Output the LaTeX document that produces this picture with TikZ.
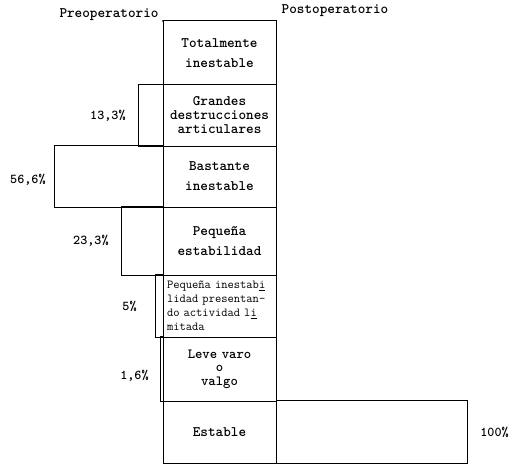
\documentclass[tikz,border=0pt]{standalone}
\usepackage{tikz}

\begin{document}
\begin{tikzpicture}[x=1pt,y=-1pt,line width=1pt,
    fila/.style={draw, inner xsep=4pt, inner ysep=0pt, text width=105pt, align=center,
        font=\ttfamily\bfseries\fontsize{14.5}{20}\selectfont},
    pct/.style={anchor=east, font=\ttfamily\bfseries\fontsize{13.5}{15}\selectfont},
    titulo/.style={font=\ttfamily\bfseries\fontsize{14.5}{16}\selectfont}]
        \useasboundingbox (0,0) rectangle (518,465);
        \node[titulo] (preop) at (109,15) {Preoperatorio};
        \node[titulo] (postop) at (335,11) {Postoperatorio};
        % columna central
        \node[fila, minimum height=64pt] (total) at (219.5,53) {Totalmente\\inestable};
        \node[fila, minimum height=61pt, font=\ttfamily\bfseries\fontsize{14.5}{14}\selectfont] (grandes) at (219.5,115.5) {Grandes\\destrucciones\\articulares};
        \node[fila, minimum height=61pt] (bastante) at (219.5,176.5) {Bastante\\inestable};
        \node[fila, minimum height=68pt] (pequena) at (219.5,241) {Pequeña\\estabilidad};
        \node[fila, minimum height=62pt, align=left, font=\ttfamily\fontsize{12.2}{14}\selectfont] (limitada) at (219.5,306) {Pequeña inestab\underline{i}\\lidad presentan-\\do actividad l\underline{i}\\mitada};
        \node[fila, minimum height=64pt, font=\ttfamily\bfseries\fontsize{14}{13.5}\selectfont] (leve) at (219.5,369) {Leve varo\\o\\valgo};
        \node[fila, minimum height=62pt] (estable) at (219.5,432) {Estable};
        \draw (preop.base east) ++(1,4) -- (total.north west);
        % barras preoperatorio
        \draw (grandes.north west) -- ++(-24,0) |- (grandes.south west);
        \draw (bastante.north west) -- ++(-108,0) |- (bastante.south west);
        \draw (pequena.north west) -- ++(-41,0) |- (pequena.south west);
        \draw (limitada.north west) -- ++(-7,0) |- (limitada.south west);
        \draw (leve.north west) -- ++(-2,0) |- (leve.south west);
        % barra postoperatorio
        \draw (estable.north east) -- ++(191,0) |- (estable.south east);
        \node[pct] (p133) at ([xshift=-33pt]grandes.west) {13,3\%};
        \node[pct] (p566) at ([xshift=-113pt,yshift=-3pt]bastante.west) {56,6\%};
        \node[pct] (p233) at ([xshift=-50pt]pequena.west) {23,3\%};
        \node[pct] (p5) at ([xshift=-22pt]limitada.west) {5\%};
        \node[pct] (p16) at ([xshift=-10pt,yshift=-7pt]leve.west) {1,6\%};
        \node[pct, anchor=west] (p100) at ([xshift=200pt]estable.east) {100\%};
    \end{tikzpicture}
\end{document}
